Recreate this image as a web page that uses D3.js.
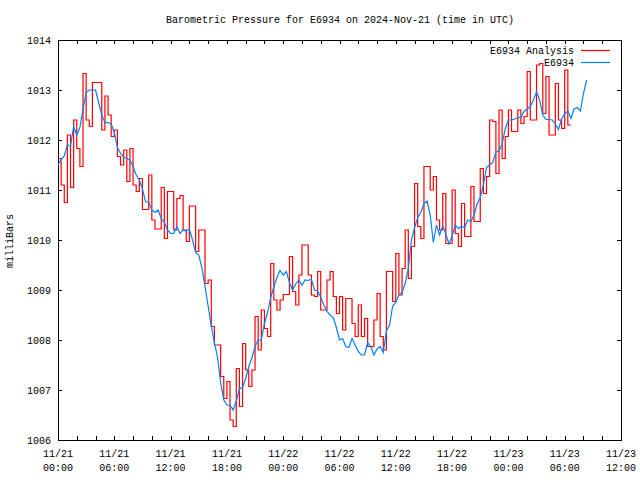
<!DOCTYPE html>
<html>
<head>
<meta charset="utf-8">
<script src="https://cdn.jsdelivr.net/npm/d3@7"></script>
<style>
  html, body { margin: 0; padding: 0; background: #fff; }
  svg { display: block; }
  text { font-family: "Liberation Mono", "DejaVu Sans Mono", monospace; font-size: 10px; fill: #000; }
</style>
</head>
<body>
<svg id="chart" width="640" height="480"></svg>
<script>
// ---- data (pressure in milliBars, one sample every 20 minutes from 2024-11-21 00:00 UTC) ----
const startTime = "2024-11-21T00:00:00Z";
const sampleMinutes = 20;

const analysisValues = [
  1011.63, 1011.1, 1010.75, 1012.1, 1011.05, 1012.4, 1011.83, 1011.47, 1013.33, 1012.4,
  1012.27, 1013.15, 1013.15, 1013.15, 1012.2, 1012.88, 1012.5, 1012.07, 1012.2, 1011.67,
  1011.5, 1011.8, 1011.17, 1011.83, 1011.1, 1010.97, 1011.23, 1010.61, 1010.61, 1011.3,
  1010.4, 1010.22, 1010.22, 1011.05, 1010.03, 1010.97, 1010.97, 1010.2, 1010.83, 1010.89,
  1010.2, 1009.97, 1010.68, 1010.68, 1009.77, 1010.2, 1010.2, 1009.13, 1009.2, 1008.27,
  1007.9, 1007.9, 1007.27, 1006.83, 1007.17, 1006.4, 1006.27, 1007.43, 1006.67, 1007.93,
  1007.4, 1007.07, 1007.4, 1008.47, 1007.8, 1008.6, 1008.23, 1008.07, 1009.53, 1008.8,
  1008.6, 1008.8, 1008.91, 1008.91, 1009.67, 1008.97, 1008.7, 1009.3, 1009.9, 1009.9,
  1009.3, 1008.9, 1008.87, 1009.37, 1008.6, 1008.6, 1009.2, 1009.37, 1008.87, 1008.53,
  1008.87, 1008.2, 1008.83, 1008.83, 1008.33, 1008.07, 1008.7, 1008.07, 1008.43, 1007.87,
  1007.87, 1008.4, 1008.93, 1008.07, 1007.8, 1009.37, 1009.37, 1008.77, 1009.73, 1008.9,
  1009.43, 1010.2, 1009.23, 1009.87, 1011.13, 1010.27, 1010.03, 1011.47, 1011.47, 1011.0,
  1011.27, 1010.4, 1010.2, 1010.93, 1009.93, 1009.93, 1011.0, 1010.13, 1009.87, 1010.73,
  1010.07, 1010.07, 1011.07, 1010.37, 1010.37, 1011.43, 1010.93, 1011.27, 1012.4, 1012.37,
  1011.33, 1012.6, 1011.63, 1012.07, 1012.6, 1012.17, 1012.17, 1012.6, 1012.33, 1012.47,
  1013.37, 1012.4, 1012.4, 1013.5, 1013.53, 1012.53, 1013.27, 1012.1, 1012.1, 1013.13,
  1012.4, 1012.23, 1013.4, 1012.3, 1012.3
];

const stationValues = [
  1011.5, 1011.61, 1011.68, 1011.9, 1011.88, 1012.27, 1012.1, 1012.25, 1012.62, 1012.95,
  1013.0, 1013.0, 1013.0, 1012.75, 1012.5, 1012.35, 1012.35, 1012.32, 1012.15, 1011.85,
  1011.73, 1011.66, 1011.63, 1011.6, 1011.47, 1011.3, 1011.2, 1011.02, 1010.76, 1010.76,
  1010.6, 1010.55, 1010.6, 1010.43, 1010.35, 1010.2, 1010.13, 1010.13, 1010.27, 1010.13,
  1010.2, 1010.18, 1010.22, 1010.0, 1009.75, 1009.7, 1009.45, 1009.07, 1008.68, 1008.28,
  1007.95, 1007.66, 1007.15, 1006.8, 1006.7, 1006.7, 1006.6, 1006.78, 1007.02, 1007.05,
  1007.23, 1007.47, 1007.64, 1007.87, 1008.0, 1008.0, 1008.33, 1008.55, 1008.85, 1009.06,
  1009.25, 1009.39, 1009.3, 1009.37, 1009.15, 1009.0, 1009.12, 1009.2, 1009.1, 1009.2,
  1009.19, 1009.22, 1009.0, 1008.98, 1008.86, 1008.7, 1008.57, 1008.5, 1008.45, 1008.25,
  1008.0, 1008.03, 1007.87, 1007.85, 1008.03, 1007.9, 1007.77, 1007.7, 1007.7, 1007.95,
  1007.87, 1007.7, 1007.82, 1007.87, 1007.75, 1008.18, 1008.3, 1008.68, 1008.75, 1008.9,
  1008.95, 1009.13, 1009.43, 1010.0, 1010.25, 1010.45, 1010.55, 1010.73, 1010.78, 1010.5,
  1009.95, 1010.3, 1010.1, 1010.28, 1010.12, 1009.92, 1010.08, 1010.3, 1010.23, 1010.27,
  1010.25, 1010.4, 1010.37, 1010.5, 1010.72, 1010.85, 1011.1, 1011.45, 1011.5, 1011.55,
  1011.76, 1011.78, 1011.92, 1012.23, 1012.4, 1012.4, 1012.42, 1012.45, 1012.45, 1012.57,
  1012.62, 1012.67, 1012.8, 1012.96, 1012.8, 1012.5, 1012.41, 1012.41, 1012.4, 1012.32,
  1012.21, 1012.42, 1012.52, 1012.58, 1012.43, 1012.62, 1012.65, 1012.58, 1012.93, 1013.2
];

const seriesNames = ["E6934 Analysis", "E6934"];
const seriesColors = ["#ff0000", "#0080ff"];
const yTicks = [1006, 1007, 1008, 1009, 1010, 1011, 1012, 1013, 1014];
const xLabelHours = [0, 6, 12, 18, 24, 30, 36, 42, 48, 54, 60];
const titleText = "Barometric Pressure for E6934 on 2024-Nov-21 (time in UTC)";
const yLabelText = "milliBars";

(function () {
  // ---- layout ----
  const plotLeft = 58, plotRight = 621, plotTop = 40, plotBottom = 440;
  const t0 = new Date(startTime);
  const hour = 3600 * 1000;
  const svg = d3.select("#chart");

  const x = d3.scaleUtc().domain([t0, new Date(+t0 + 60 * hour)]).range([plotLeft, plotRight]);
  const y = d3.scaleLinear().domain([1006, 1014]).range([plotBottom, plotTop]);

  const toPoints = vals => vals.map((v, i) => ({ t: new Date(+t0 + i * sampleMinutes * 60000), v }));
  const analysis = toPoints(analysisValues);
  const station = toPoints(stationValues);

  // ---- axes ----
  const tickHours = d3.range(0, 61, 2);
  const tickDates = tickHours.map(h => new Date(+t0 + h * hour));

  svg.append("g").attr("transform", `translate(0,${plotBottom})`)
    .call(d3.axisBottom(x).tickValues(tickDates).tickSize(-4).tickFormat(""))
    .call(g => g.select(".domain").remove());
  svg.append("g").attr("transform", `translate(0,${plotTop})`)
    .call(d3.axisTop(x).tickValues(tickDates).tickSize(-4).tickFormat(""))
    .call(g => g.select(".domain").remove());
  svg.append("g").attr("transform", `translate(${plotLeft},0)`)
    .call(d3.axisLeft(y).tickValues(yTicks).tickSize(-4).tickFormat(""))
    .call(g => g.select(".domain").remove());
  svg.append("g").attr("transform", `translate(${plotRight},0)`)
    .call(d3.axisRight(y).tickValues(yTicks).tickSize(-4).tickFormat(""))
    .call(g => g.select(".domain").remove());
  svg.selectAll(".tick line").attr("stroke", "#000").attr("shape-rendering", "crispEdges");

  // frame
  svg.append("rect")
    .attr("x", plotLeft + 0.5).attr("y", plotTop + 0.5)
    .attr("width", plotRight - plotLeft).attr("height", plotBottom - plotTop)
    .attr("fill", "none").attr("stroke", "#000").attr("shape-rendering", "crispEdges");

  // y labels
  svg.append("g").selectAll("text").data(yTicks).join("text")
    .attr("x", plotLeft - 7).attr("y", d => y(d)).attr("dy", "0.35em")
    .attr("text-anchor", "end").text(d => d);

  // x labels (two lines)
  const fmtDate = d3.utcFormat("%m/%d"), fmtTime = d3.utcFormat("%H:%M");
  const xl = svg.append("g").selectAll("text").data(xLabelHours).join("text")
    .attr("text-anchor", "middle");
  xl.append("tspan").attr("x", h => x(new Date(+t0 + h * hour))).attr("y", 457)
    .text(h => fmtDate(new Date(+t0 + h * hour)));
  xl.append("tspan").attr("x", h => x(new Date(+t0 + h * hour))).attr("y", 471)
    .text(h => fmtTime(new Date(+t0 + h * hour)));

  // title & y-axis label
  svg.append("text").attr("x", 340).attr("y", 23).attr("text-anchor", "middle").text(titleText);
  svg.append("text").attr("transform", "translate(13,241) rotate(-90)")
    .attr("text-anchor", "middle").text(yLabelText);

  // ---- data lines ----
  const stepLine = d3.line().x(d => x(d.t)).y(d => y(d.v)).curve(d3.curveStepAfter);
  const plainLine = d3.line().x(d => x(d.t)).y(d => y(d.v));

  svg.append("path").datum(analysis)
    .attr("d", stepLine).attr("fill", "none")
    .attr("stroke", seriesColors[0]).attr("stroke-width", 1.2);
  svg.append("path").datum(station)
    .attr("d", plainLine).attr("fill", "none")
    .attr("stroke", seriesColors[1]).attr("stroke-width", 1.2);

  // ---- legend ----
  const legend = svg.append("g").selectAll("g").data(seriesNames).join("g")
    .attr("transform", (d, i) => `translate(0,${50 + i * 12})`);
  legend.append("text").attr("x", 574).attr("y", 0).attr("dy", "0.35em")
    .attr("text-anchor", "end").text(d => d);
  legend.append("line").attr("x1", 581).attr("x2", 610).attr("y1", 0.5).attr("y2", 0.5)
    .attr("stroke", (d, i) => seriesColors[i]).attr("stroke-width", 1.2);
})();
</script>
</body>
</html>
